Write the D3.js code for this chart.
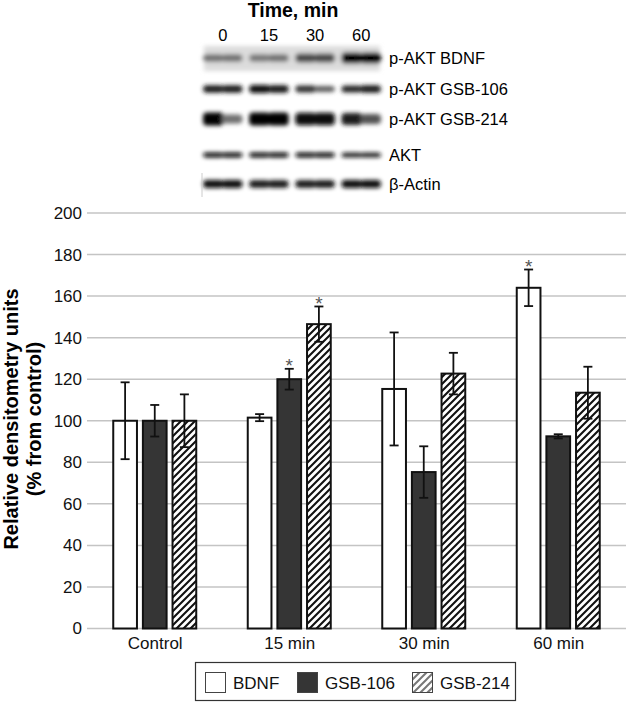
<!DOCTYPE html>
<html>
<head>
<meta charset="utf-8">
<script src="https://cdn.jsdelivr.net/npm/d3@7"></script>
<style>
  body { margin: 0; background: #fff; }
  svg { display: block; font-family: "Liberation Sans", Arial, sans-serif; }
</style>
</head>
<body>
<script>
// chart values
const categories = ["Control", "15 min", "30 min", "60 min"];
const series = ["BDNF", "GSB-106", "GSB-214"];
const bdnfValues = [100, 101.5, 115.3, 164];
const bdnfErrors = [18.5, 1.7, 27.2, 8.8];
const gsb106Values = [100, 120, 75.3, 92.5];
const gsb106Errors = [7.6, 5, 12.4, 1];
const gsb214Values = [100, 146.5, 122.7, 113.5];
const gsb214Errors = [12.7, 8.5, 10, 12.5];
// significance marks (*), per series per category
const bdnfStars = [false, false, false, true];
const gsb106Stars = [false, true, false, false];
const gsb214Stars = [false, true, false, false];
const yTicks = [0, 20, 40, 60, 80, 100, 120, 140, 160, 180, 200];

// western blot: lanes, rows and band density [left half, right half]
const blotLanes = ["0", "15", "30", "60"];
const blotRows = ["p-AKT BDNF", "p-AKT GSB-106", "p-AKT GSB-214", "AKT", "β-Actin"];
const bandDensity = [
    [[0.45, 0.45], [0.4, 0.45], [0.65, 0.65], [1, 1]],
    [[0.85, 0.85], [0.95, 0.9], [0.75, 0.55], [0.8, 0.85]],
    [[1, 0.45], [1, 1], [0.95, 0.95], [0.85, 0.6]],
    [[0.95, 0.95], [0.95, 0.95], [0.95, 0.95], [0.9, 0.9]],
    [[0.95, 0.95], [0.9, 0.9], [0.9, 0.9], [0.95, 0.95]]
];

window.onload = function() {
    let width = 626;
    let height = 702;

    let svg = d3.select("body")
        .append("svg")
        .attr("width", width)
        .attr("height", height);

    let defs = svg.append("defs");

    // hatch for GSB-214 bars
    let hatch = defs.append("pattern")
        .attr("id", "hatch")
        .attr("patternUnits", "userSpaceOnUse")
        .attr("width", 7)
        .attr("height", 7);
    hatch.append("rect").attr("width", 7).attr("height", 7).attr("fill", "#fff");
    hatch.append("path")
        .attr("d", "M-1,8 L8,-1 M-2,2 L2,-2 M5,9 L9,5")
        .attr("stroke", "#111")
        .attr("stroke-width", 2.1);

    // lighter hatch for the legend swatch
    let hatchLight = defs.append("pattern")
        .attr("id", "hatchLight")
        .attr("patternUnits", "userSpaceOnUse")
        .attr("width", 7)
        .attr("height", 7);
    hatchLight.append("rect").attr("width", 7).attr("height", 7).attr("fill", "#fff");
    hatchLight.append("path")
        .attr("d", "M-1,8 L8,-1 M-2,2 L2,-2 M5,9 L9,5")
        .attr("stroke", "#777")
        .attr("stroke-width", 2);

    defs.append("filter")
        .attr("id", "blur")
        .attr("x", "-20%").attr("y", "-100%")
        .attr("width", "140%").attr("height", "300%")
        .append("feGaussianBlur")
        .attr("stdDeviation", 2);

    // ---------- western blot ----------
    let laneX = d3.scaleBand()
        .domain(blotLanes)
        .range([202, 382])
        .paddingInner(0.1);

    let rowY = d3.scaleOrdinal()
        .domain(blotRows)
        .range([58, 89, 119, 155, 184]);

    let rowThickness = [11, 8, 13, 5, 8];

    svg.append("text")
        .attr("x", 293)
        .attr("y", 17)
        .attr("text-anchor", "middle")
        .style("font-size", "19.5px")
        .style("font-weight", "bold")
        .text("Time, min");

    svg.selectAll(".laneLabel")
        .data(blotLanes)
        .enter()
        .append("text")
        .attr("class", "laneLabel")
        .attr("x", d => laneX(d) + laneX.bandwidth() / 2)
        .attr("y", 41)
        .attr("text-anchor", "middle")
        .style("font-size", "16.5px")
        .text(d => d);

    let blot = svg.append("g").attr("filter", "url(#blur)");

    // gray smear behind the BDNF row
    blot.append("rect")
        .attr("x", 204)
        .attr("y", rowY(blotRows[0]) - 12)
        .attr("width", 176)
        .attr("height", 25)
        .attr("fill", "#dcdcdc");

    let bands = [];
    blotRows.forEach(function(row, i) {
        blotLanes.forEach(function(lane, j) {
            bandDensity[i][j].forEach(function(d, k) {
                bands.push({ row: row, i: i, lane: lane, half: k, d: d });
            });
        });
    });

    blot.selectAll(".band")
        .data(bands)
        .enter()
        .append("rect")
        .attr("class", "band")
        .attr("x", d => laneX(d.lane) + 1 + d.half * (laneX.bandwidth() / 2 - 2))
        .attr("width", laneX.bandwidth() / 2)
        .attr("y", d => rowY(d.row) - rowThickness[d.i] * (0.45 + 0.55 * d.d) / 2)
        .attr("height", d => rowThickness[d.i] * (0.45 + 0.55 * d.d))
        .attr("rx", 4)
        .attr("fill", d => d3.interpolateGreys(0.35 + 0.65 * d.d));

    // faint marker line at the left of the actin row
    svg.append("line")
        .attr("x1", 202).attr("x2", 202)
        .attr("y1", 173).attr("y2", 197)
        .attr("stroke", "#ccc")
        .attr("stroke-width", 1);

    svg.selectAll(".rowLabel")
        .data(blotRows)
        .enter()
        .append("text")
        .attr("class", "rowLabel")
        .attr("x", 389)
        .attr("y", d => rowY(d) + 6)
        .style("font-size", "16.5px")
        .text(d => d);

    // ---------- bar chart ----------
    let x0 = d3.scaleBand()
        .domain(categories)
        .range([88, 626]);

    let x1 = d3.scaleBand()
        .domain(series)
        .range([-42, 41])
        .paddingInner(0.2);

    let y = d3.scaleLinear()
        .domain([0, 200])
        .range([628.5, 213]);

    // gridlines
    svg.selectAll(".grid")
        .data(yTicks)
        .enter()
        .append("line")
        .attr("class", "grid")
        .attr("x1", 87)
        .attr("x2", 626)
        .attr("y1", d => y(d))
        .attr("y2", d => y(d))
        .attr("stroke", "#c4c4c4")
        .attr("stroke-width", 1.5);

    // y axis labels (no axis line in the figure)
    let yAxis = svg.append("g")
        .attr("transform", "translate(87,0)")
        .call(d3.axisLeft(y).tickValues(yTicks).tickSize(0).tickPadding(5));
    yAxis.select(".domain").remove();
    yAxis.selectAll("text")
        .style("font-size", "17px")
        .style("font-family", "Liberation Sans, Arial, sans-serif")
        .attr("fill", "#111");

    // x axis labels
    let xAxis = svg.append("g")
        .attr("transform", "translate(0," + y(0) + ")")
        .call(d3.axisBottom(x0).tickSize(0).tickPadding(8));
    xAxis.select(".domain").remove();
    xAxis.selectAll("text")
        .style("font-size", "17px")
        .style("font-family", "Liberation Sans, Arial, sans-serif")
        .attr("fill", "#111");

    let values = [bdnfValues, gsb106Values, gsb214Values];
    let errors = [bdnfErrors, gsb106Errors, gsb214Errors];
    let stars = [bdnfStars, gsb106Stars, gsb214Stars];
    let fills = ["#fff", "#353535", "url(#hatch)"];

    let barData = [];
    categories.forEach(function(c, i) {
        series.forEach(function(s, k) {
            barData.push({
                cat: c, series: s, k: k,
                value: values[k][i], err: errors[k][i], star: stars[k][i]
            });
        });
    });

    let bx = d => x0(d.cat) + x0.bandwidth() / 2 + x1(d.series);

    svg.selectAll(".bar")
        .data(barData)
        .enter()
        .append("rect")
        .attr("class", "bar")
        .attr("x", d => bx(d))
        .attr("width", x1.bandwidth())
        .attr("y", d => y(d.value))
        .attr("height", d => y(0) - y(d.value))
        .attr("fill", d => fills[d.k])
        .attr("stroke", "#111")
        .attr("stroke-width", 2);

    // error bars
    let eb = svg.selectAll(".err")
        .data(barData)
        .enter()
        .append("g")
        .attr("class", "err")
        .attr("stroke", "#111")
        .attr("stroke-width", 1.8);
    eb.append("line")
        .attr("x1", d => bx(d) + x1.bandwidth() / 2)
        .attr("x2", d => bx(d) + x1.bandwidth() / 2)
        .attr("y1", d => y(d.value + d.err))
        .attr("y2", d => y(d.value - d.err));
    eb.append("line")
        .attr("x1", d => bx(d) + x1.bandwidth() / 2 - 4.5)
        .attr("x2", d => bx(d) + x1.bandwidth() / 2 + 4.5)
        .attr("y1", d => y(d.value + d.err))
        .attr("y2", d => y(d.value + d.err));
    eb.append("line")
        .attr("x1", d => bx(d) + x1.bandwidth() / 2 - 4.5)
        .attr("x2", d => bx(d) + x1.bandwidth() / 2 + 4.5)
        .attr("y1", d => y(d.value - d.err))
        .attr("y2", d => y(d.value - d.err));

    // significance stars
    svg.selectAll(".star")
        .data(barData.filter(d => d.star))
        .enter()
        .append("text")
        .attr("class", "star")
        .attr("x", d => bx(d) + x1.bandwidth() / 2)
        .attr("y", d => y(d.value + d.err) + 3.5)
        .attr("text-anchor", "middle")
        .attr("fill", "#555")
        .style("font-size", "19px")
        .text("*");

    // y axis title
    let title = svg.append("g")
        .attr("transform", "translate(0,419) rotate(-90)");
    title.append("text")
        .attr("x", 0)
        .attr("y", 18)
        .attr("text-anchor", "middle")
        .style("font-size", "20px")
        .style("font-weight", "bold")
        .text("Relative densitometry units");
    title.append("text")
        .attr("x", 0)
        .attr("y", 41)
        .attr("text-anchor", "middle")
        .style("font-size", "20px")
        .style("font-weight", "bold")
        .text("(% from control)");

    // legend
    let legend = svg.append("g");
    legend.append("rect")
        .attr("x", 195.5)
        .attr("y", 662.5)
        .attr("width", 320)
        .attr("height", 38)
        .attr("fill", "#fff")
        .attr("stroke", "#333")
        .attr("stroke-width", 1.2);

    let legendX = d3.scaleOrdinal()
        .domain(series)
        .range([205, 297, 412]);
    let legendFills = ["#fff", "#353535", "url(#hatchLight)"];

    legend.selectAll(".swatch")
        .data(series)
        .enter()
        .append("rect")
        .attr("class", "swatch")
        .attr("x", d => legendX(d) + 0.5)
        .attr("y", 672.5)
        .attr("width", 20)
        .attr("height", 20)
        .attr("fill", (d, i) => legendFills[i])
        .attr("stroke", "#444")
        .attr("stroke-width", 1);

    legend.selectAll(".legendText")
        .data(series)
        .enter()
        .append("text")
        .attr("class", "legendText")
        .attr("x", d => legendX(d) + 28)
        .attr("y", 688.5)
        .style("font-size", "17px")
        .attr("fill", "#111")
        .text(d => d);
};
</script>
</body>
</html>
